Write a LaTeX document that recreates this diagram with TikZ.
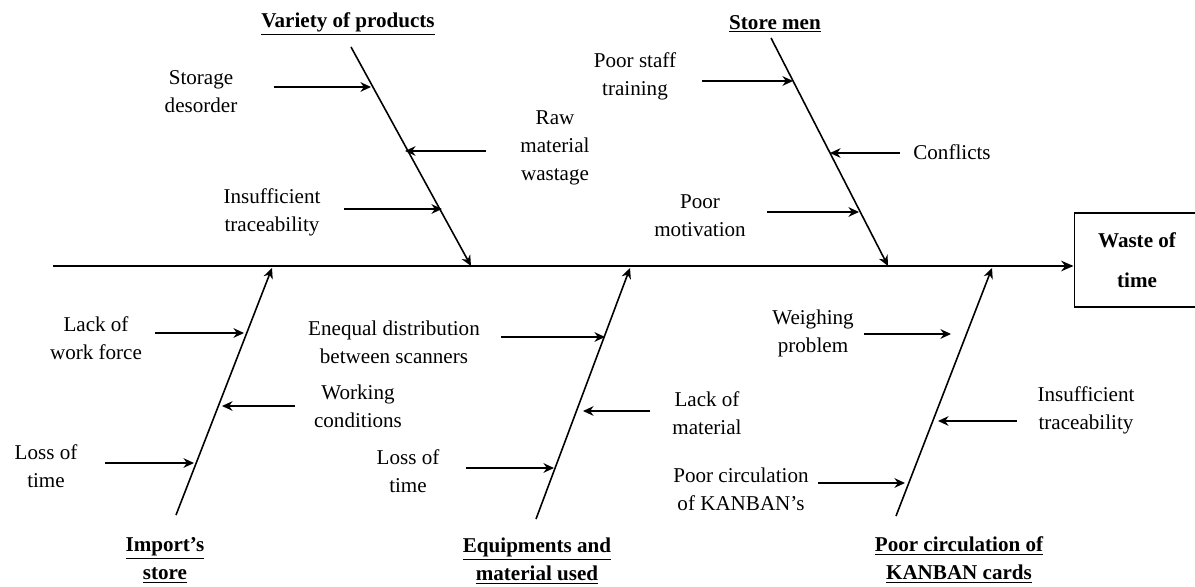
\documentclass[tikz,border=0pt]{standalone}
\usepackage{fontspec}
\setmainfont{Liberation Serif}
\usetikzlibrary{positioning, arrows.meta}

\begin{document}
\begin{tikzpicture}[
    x=0.02cm, y=-0.02cm,
    cause/.style={font=\fontsize{12}{16}\selectfont, align=center, inner sep=0pt},
    category/.style={font=\bfseries\fontsize{12}{16}\selectfont, align=center, inner sep=0pt},
    effectbox/.style={draw, line width=0.6pt, minimum width=2.52cm, minimum height=1.88cm, font=\bfseries\fontsize{12}{23}\selectfont, align=center},
    spine/.style={line width=1.7pt, -{Stealth[length=7pt, width=6pt]}},
    bone/.style={line width=0.9pt, -{Stealth[length=6pt, width=5.5pt]}},
    arrowin/.style={line width=0.8pt, -{Stealth[length=6pt, width=5.5pt]}}
]
\useasboundingbox (0,0) rectangle (1195,587);

% effect and spine
\node[effectbox] (effect) at (1137,260) {Waste of\\time};
\coordinate (tail) at (53,266);
\draw[spine] (tail) -- (tail -| effect.west);

% bones
\coordinate (vtop) at (351,47);   \coordinate (vend) at (471,266);
\coordinate (stop) at (771,38);   \coordinate (send) at (888,266);
\coordinate (ibot) at (176,515);  \coordinate (iend) at (272,268);
\coordinate (ebot) at (536,519);  \coordinate (eend) at (630,268);
\coordinate (kbot) at (896,516);  \coordinate (kend) at (992,268);

\draw[bone] (vtop) -- (vend);
\draw[bone] (stop) -- (send);
\draw[bone] (ibot) -- (iend);
\draw[bone] (ebot) -- (eend);
\draw[bone] (kbot) -- (kend);

% categories
\node[category] (variety) at (348,24) {\underline{Variety of products}};
\node[category] (storemen) at (775,24) {\underline{Store men}};
\node[category] (import) at (165,560) {\underline{Import’s}\\\underline{store}};
\node[category] (equip) at (537,561) {\underline{Equipments and}\\\underline{material used}};
\node[category] (kanban) at (959,560) {\underline{Poor circulation of}\\\underline{KANBAN cards}};

% causes: variety of products
\node[cause] (storage) at (201,92) {Storage\\desorder};
\node[cause] (raw) at (555,148) {Raw\\material\\wastage};
\node[cause] (trace1) at (272,212) {Insufficient\\traceability};
\coordinate (v1s) at (274,87);  \coordinate (v1t) at (371,87);
\coordinate (v2s) at (486,151); \coordinate (v2t) at (405,151);
\coordinate (v3s) at (344,209); \coordinate (v3t) at (442,209);
\draw[arrowin] (v1s) -- (v1t);
\draw[arrowin] (v2s) -- (v2t);
\draw[arrowin] (v3s) -- (v3t);

% causes: store men
\node[cause] (training) at (635,76) {Poor staff\\training};
\node[cause] (conflicts) at (952,152) {Conflicts};
\node[cause] (motivation) at (700,216) {Poor\\motivation};
\coordinate (s1s) at (702,81);  \coordinate (s1t) at (793,81);
\coordinate (s2s) at (900,153); \coordinate (s2t) at (830,153);
\coordinate (s3s) at (767,212); \coordinate (s3t) at (859,212);
\draw[arrowin] (s1s) -- (s1t);
\draw[arrowin] (s2s) -- (s2t);
\draw[arrowin] (s3s) -- (s3t);

% causes: import's store
\node[cause] (workforce) at (96,338) {Lack of\\work force};
\node[cause] (working) at (358,406) {Working\\conditions};
\node[cause] (loss1) at (46,466) {Loss of\\time};
\coordinate (i1s) at (155,333); \coordinate (i1t) at (244,333);
\coordinate (i2s) at (295,406); \coordinate (i2t) at (222,406);
\coordinate (i3s) at (105,463); \coordinate (i3t) at (194,463);
\draw[arrowin] (i1s) -- (i1t);
\draw[arrowin] (i2s) -- (i2t);
\draw[arrowin] (i3s) -- (i3t);

% causes: equipments and material used
\node[cause] (enequal) at (394,342) {Enequal distribution\\between scanners};
\node[cause] (lackmat) at (707,413) {Lack of\\material};
\node[cause] (loss2) at (408,471) {Loss of\\time};
\coordinate (e1s) at (501,337); \coordinate (e1t) at (605,337);
\coordinate (e2s) at (650,411); \coordinate (e2t) at (583,411);
\coordinate (e3s) at (466,468); \coordinate (e3t) at (554,468);
\draw[arrowin] (e1s) -- (e1t);
\draw[arrowin] (e2s) -- (e2t);
\draw[arrowin] (e3s) -- (e3t);

% causes: poor circulation of kanban cards
\node[cause] (weighing) at (813,333) {Weighing\\problem};
\node[cause] (trace2) at (1086,410) {Insufficient\\traceability};
\node[cause] (circ) at (741,489) {Poor circulation\\of KANBAN’s};
\coordinate (k1s) at (864,334);  \coordinate (k1t) at (951,334);
\coordinate (k2s) at (1017,421); \coordinate (k2t) at (938,421);
\coordinate (k3s) at (818,483);  \coordinate (k3t) at (905,483);
\draw[arrowin] (k1s) -- (k1t);
\draw[arrowin] (k2s) -- (k2t);
\draw[arrowin] (k3s) -- (k3t);

\end{tikzpicture}
\end{document}
